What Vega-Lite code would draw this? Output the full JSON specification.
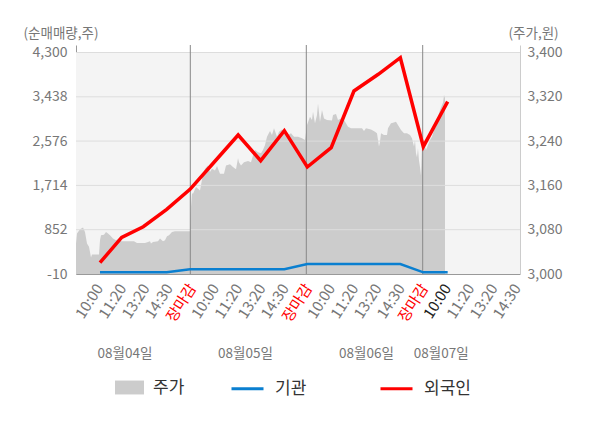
{
  "$schema": "https://vega.github.io/schema/vega-lite/v6.json",
  "width": 444,
  "height": 229,
  "autosize": "none",
  "padding": {"left": 76, "top": 45, "right": 80, "bottom": 154},
  "background": "white",
  "config": {
    "view": {"stroke": null},
    "font": "Noto Sans CJK KR",
    "axis": {
      "labelFont": "Noto Sans CJK KR",
      "titleFont": "Noto Sans CJK KR",
      "labelColor": "#777777",
      "titleColor": "#777777",
      "titleFontWeight": "normal",
      "ticks": false,
      "grid": false
    },
    "legend": {"labelFont": "Noto Sans CJK KR", "labelColor": "#333333", "padding": 0}
  },
  "datasets": {
    "price": [
      {"i": 0, "p": 3055}, {"i": 0.043, "p": 3073}, {"i": 0.172, "p": 3081}, {"i": 0.302, "p": 3084},
      {"i": 0.388, "p": 3076}, {"i": 0.474, "p": 3055}, {"i": 0.56, "p": 3049}, {"i": 0.647, "p": 3030},
      {"i": 0.69, "p": 3035}, {"i": 0.991, "p": 3035}, {"i": 1.034, "p": 3061}, {"i": 1.078, "p": 3070},
      {"i": 1.207, "p": 3071}, {"i": 1.293, "p": 3076}, {"i": 1.379, "p": 3073}, {"i": 1.466, "p": 3070},
      {"i": 1.595, "p": 3064}, {"i": 1.724, "p": 3061}, {"i": 1.853, "p": 3064}, {"i": 1.94, "p": 3059},
      {"i": 2.5, "p": 3059}, {"i": 2.629, "p": 3056}, {"i": 2.974, "p": 3056}, {"i": 3.103, "p": 3058},
      {"i": 3.19, "p": 3059}, {"i": 3.233, "p": 3055}, {"i": 3.319, "p": 3058}, {"i": 3.534, "p": 3059},
      {"i": 3.621, "p": 3064}, {"i": 3.75, "p": 3059}, {"i": 3.836, "p": 3061}, {"i": 3.922, "p": 3068},
      {"i": 4.009, "p": 3070}, {"i": 4.138, "p": 3076}, {"i": 4.267, "p": 3077}, {"i": 4.914, "p": 3077},
      {"i": 4.957, "p": 3121}, {"i": 5.0, "p": 3146}, {"i": 5.043, "p": 3145}, {"i": 5.172, "p": 3157},
      {"i": 5.345, "p": 3151}, {"i": 5.474, "p": 3180}, {"i": 5.56, "p": 3190}, {"i": 5.69, "p": 3196},
      {"i": 5.776, "p": 3184}, {"i": 5.862, "p": 3190}, {"i": 5.991, "p": 3187}, {"i": 6.078, "p": 3195},
      {"i": 6.207, "p": 3181}, {"i": 6.379, "p": 3181}, {"i": 6.466, "p": 3196}, {"i": 6.638, "p": 3198},
      {"i": 6.767, "p": 3193}, {"i": 6.897, "p": 3189}, {"i": 6.983, "p": 3209}, {"i": 7.026, "p": 3202},
      {"i": 7.112, "p": 3196}, {"i": 7.241, "p": 3202}, {"i": 7.414, "p": 3204}, {"i": 7.543, "p": 3202},
      {"i": 7.629, "p": 3214}, {"i": 7.716, "p": 3224}, {"i": 7.845, "p": 3220}, {"i": 7.974, "p": 3218},
      {"i": 8.06, "p": 3224}, {"i": 8.147, "p": 3233}, {"i": 8.233, "p": 3248}, {"i": 8.362, "p": 3258},
      {"i": 8.448, "p": 3251}, {"i": 8.534, "p": 3263}, {"i": 8.664, "p": 3248}, {"i": 8.75, "p": 3257},
      {"i": 8.879, "p": 3261}, {"i": 9.009, "p": 3257}, {"i": 9.138, "p": 3251}, {"i": 9.267, "p": 3254},
      {"i": 9.397, "p": 3248}, {"i": 9.569, "p": 3248}, {"i": 9.741, "p": 3245}, {"i": 9.871, "p": 3242},
      {"i": 9.957, "p": 3269}, {"i": 10.086, "p": 3284}, {"i": 10.172, "p": 3278}, {"i": 10.216, "p": 3293},
      {"i": 10.302, "p": 3272}, {"i": 10.388, "p": 3287}, {"i": 10.431, "p": 3308}, {"i": 10.517, "p": 3275},
      {"i": 10.603, "p": 3296}, {"i": 10.69, "p": 3281}, {"i": 10.819, "p": 3278}, {"i": 11.034, "p": 3277},
      {"i": 11.078, "p": 3287}, {"i": 11.207, "p": 3289}, {"i": 11.293, "p": 3278}, {"i": 11.422, "p": 3281},
      {"i": 11.552, "p": 3278}, {"i": 11.638, "p": 3272}, {"i": 11.724, "p": 3266}, {"i": 11.853, "p": 3263},
      {"i": 12.328, "p": 3263}, {"i": 12.414, "p": 3258}, {"i": 12.5, "p": 3263}, {"i": 12.716, "p": 3261},
      {"i": 12.888, "p": 3257}, {"i": 12.974, "p": 3254}, {"i": 13.06, "p": 3230}, {"i": 13.103, "p": 3239},
      {"i": 13.147, "p": 3254}, {"i": 13.276, "p": 3251}, {"i": 13.405, "p": 3251}, {"i": 13.448, "p": 3263},
      {"i": 13.578, "p": 3272}, {"i": 13.664, "p": 3273}, {"i": 13.793, "p": 3275}, {"i": 13.879, "p": 3269},
      {"i": 14.009, "p": 3260}, {"i": 14.138, "p": 3254}, {"i": 14.267, "p": 3254}, {"i": 14.397, "p": 3251},
      {"i": 14.483, "p": 3245}, {"i": 14.569, "p": 3230}, {"i": 14.612, "p": 3242}, {"i": 14.655, "p": 3218},
      {"i": 14.698, "p": 3211}, {"i": 14.741, "p": 3227}, {"i": 14.784, "p": 3205}, {"i": 14.828, "p": 3193},
      {"i": 14.871, "p": 3178}, {"i": 14.914, "p": 3233}, {"i": 15.0, "p": 3236}, {"i": 15.086, "p": 3224},
      {"i": 15.172, "p": 3233}, {"i": 15.259, "p": 3242}, {"i": 15.345, "p": 3248}, {"i": 15.431, "p": 3260},
      {"i": 15.517, "p": 3266}, {"i": 15.603, "p": 3284}, {"i": 15.69, "p": 3296}, {"i": 15.776, "p": 3305},
      {"i": 15.819, "p": 3309}, {"i": 15.862, "p": 3323}, {"i": 15.905, "p": 3319}
    ],
    "flows": [
      {"s": "외국인", "i": 1.034, "v": 210}, {"s": "외국인", "i": 1.97, "v": 704},
      {"s": "외국인", "i": 2.9, "v": 910}, {"s": "외국인", "i": 3.91, "v": 1249},
      {"s": "외국인", "i": 4.914, "v": 1638}, {"s": "외국인", "i": 5.95, "v": 2164},
      {"s": "외국인", "i": 6.99, "v": 2695}, {"s": "외국인", "i": 7.96, "v": 2195},
      {"s": "외국인", "i": 8.98, "v": 2779}, {"s": "외국인", "i": 9.97, "v": 2072},
      {"s": "외국인", "i": 11.0, "v": 2448}, {"s": "외국인", "i": 11.98, "v": 3551},
      {"s": "외국인", "i": 13.03, "v": 3876}, {"s": "외국인", "i": 13.98, "v": 4199},
      {"s": "외국인", "i": 14.97, "v": 2467}, {"s": "외국인", "i": 16.02, "v": 3343},
      {"s": "기관", "i": 1.034, "v": 23}, {"s": "기관", "i": 1.97, "v": 23},
      {"s": "기관", "i": 2.9, "v": 23}, {"s": "기관", "i": 3.91, "v": 23},
      {"s": "기관", "i": 4.914, "v": 81}, {"s": "기관", "i": 5.95, "v": 81},
      {"s": "기관", "i": 6.99, "v": 81}, {"s": "기관", "i": 7.96, "v": 81},
      {"s": "기관", "i": 8.98, "v": 81}, {"s": "기관", "i": 9.97, "v": 185},
      {"s": "기관", "i": 11.0, "v": 185}, {"s": "기관", "i": 11.98, "v": 185},
      {"s": "기관", "i": 13.03, "v": 185}, {"s": "기관", "i": 13.98, "v": 185},
      {"s": "기관", "i": 14.97, "v": 23}, {"s": "기관", "i": 16.02, "v": 23}
    ],
    "days": [{"i": 4.927}, {"i": 9.927}, {"i": 14.944}],
    "grid": [{"v": 852}, {"v": 1714}, {"v": 2576}, {"v": 3438}, {"v": 4300}]
  },
  "layer": [
    {
      "data": {"values": [{"a": 0}]},
      "mark": {"type": "rect", "color": "#f4f4f4"},
      "encoding": {
        "x": {"datum": 0, "type": "quantitative", "scale": {"domain": [0, 19.138], "nice": false, "zero": false}, "axis": null},
        "x2": {"datum": 19.138},
        "y": {"datum": 4300, "type": "quantitative", "scale": {"domain": [-10, 4446], "nice": false, "zero": false}, "axis": null},
        "y2": {"datum": -10}
      }
    },
    {
      "data": {"name": "price"},
      "mark": {"type": "area", "opacity": 1},
      "encoding": {
        "x": {"field": "i", "type": "quantitative", "scale": {"domain": [0, 19.138], "nice": false, "zero": false}, "axis": null},
        "y": {
          "field": "p", "type": "quantitative",
          "scale": {"domain": [3000, 3413.5], "nice": false, "zero": false},
          "axis": {
            "orient": "right", "values": [3000, 3080, 3160, 3240, 3320, 3400], "format": ",.0f",
            "domainColor": "#cccccc", "labelFontSize": 14, "labelPadding": 7,
            "title": "(주가,원)", "titleFontSize": 13.5, "titleAngle": 0, "titleAlign": "left",
            "titleBaseline": "middle", "titleX": -12, "titleY": -12
          }
        },
        "y2": {"datum": 3000},
        "fill": {
          "datum": "주가",
          "scale": {"range": ["#cccccc"]},
          "legend": {
            "orient": "none", "legendX": 39, "legendY": 328, "title": null,
            "symbolType": "M-1,-0.48H1V0.48H-1Z", "symbolSize": 841, "symbolStrokeWidth": 0,
            "labelFontSize": 17, "labelOffset": 9
          }
        }
      }
    },
    {
      "data": {"name": "grid"},
      "mark": {"type": "rule", "color": "#dddddd", "strokeWidth": 1},
      "encoding": {
        "y": {"field": "v", "type": "quantitative", "scale": {"domain": [-10, 4446], "nice": false, "zero": false}, "axis": null}
      }
    },
    {
      "data": {"name": "days"},
      "mark": {"type": "rule", "color": "#888888", "strokeWidth": 1},
      "encoding": {
        "x": {
          "field": "i", "type": "quantitative",
          "scale": {"domain": [0, 19.138], "nice": false, "zero": false},
          "axis": {
            "orient": "bottom", "values": [2.09, 7.28, 12.5, 15.72],
            "labelExpr": "datum.value < 5 ? '08월04일' : datum.value < 10 ? '08월05일' : datum.value < 15 ? '08월06일' : '08월07일'",
            "offset": 72, "domain": false, "labelAngle": 0, "labelAlign": "center", "labelBaseline": "top",
            "labelPadding": 0, "labelFontSize": 13.5, "labelFlush": false, "labelOverlap": false, "title": null
          }
        }
      }
    },
    {
      "data": {"name": "flows"},
      "mark": {"type": "line"},
      "encoding": {
        "x": {
          "field": "i", "type": "quantitative",
          "scale": {"domain": [0, 19.138], "nice": false, "zero": false},
          "axis": {
            "orient": "bottom", "values": [1, 2, 3, 4, 5, 6, 7, 8, 9, 10, 11, 12, 13, 14, 15, 16, 17, 18, 19],
            "labelExpr": "['10:00','11:20','13:20','14:30','장마감'][(datum.value - 1) % 5]",
            "labelAngle": -57, "labelAlign": "right", "labelBaseline": "middle", "labelPadding": 11,
            "labelFontSize": 15, "labelOverlap": false, "labelFlush": false, "labelBound": false,
            "labelColor": {"condition": [{"test": "datum.value % 5 === 0", "value": "#ff0000"}, {"test": "datum.value === 16", "value": "#222222"}], "value": "#777777"},
            "domainColor": "#999999", "title": null
          }
        },
        "y": {
          "field": "v", "type": "quantitative",
          "scale": {"domain": [-10, 4446], "nice": false, "zero": false},
          "axis": {
            "orient": "left", "values": [-10, 852, 1714, 2576, 3438, 4300], "format": ",.0f",
            "labelExpr": "replace(datum.label, '\u2212', '-')",
            "domainColor": "#999999", "labelFontSize": 14, "labelPadding": 9,
            "title": "(순매매량,주)", "titleFontSize": 13.5, "titleAngle": 0, "titleAlign": "left",
            "titleBaseline": "middle", "titleX": -53, "titleY": -12
          }
        },
        "stroke": {
          "field": "s", "type": "nominal",
          "scale": {"domain": ["기관", "외국인"], "range": ["#0a7fd0", "#ff0000"]},
          "legend": {
            "orient": "none", "legendX": 154, "legendY": 326, "direction": "horizontal", "title": null,
            "symbolType": "stroke", "symbolSize": 1024, "symbolStrokeWidth": 3,
            "labelFontSize": 17, "labelOffset": 10, "columnPadding": 67
          }
        },
        "strokeWidth": {
          "field": "s", "type": "nominal",
          "scale": {"domain": ["기관", "외국인"], "range": [2.5, 3.5]},
          "legend": null
        }
      }
    }
  ],
  "resolve": {"scale": {"y": "independent", "fill": "independent", "stroke": "independent"}, "axis": {"x": "independent", "y": "independent"}}
}
